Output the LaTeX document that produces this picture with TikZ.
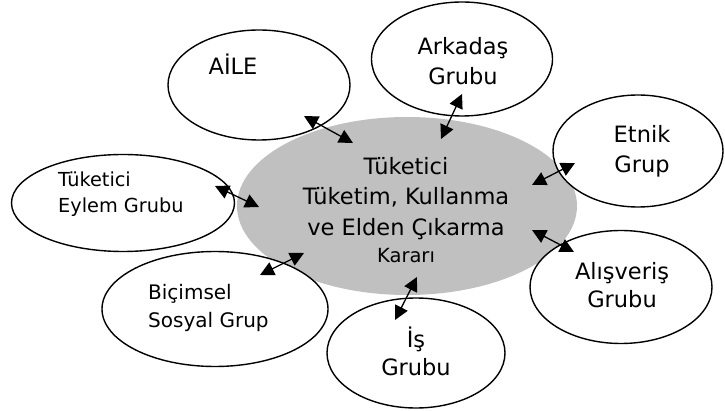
\documentclass[tikz,border=0pt]{standalone}
\usepackage{fontspec}
\setmainfont{DejaVu Sans}
\usetikzlibrary{shapes.geometric,arrows.meta}
\definecolor{centergray}{RGB}{192,192,192}
\begin{document}
\begin{tikzpicture}[x=1pt,y=-1pt,
  ell/.style={ellipse,draw=black,line width=1.4pt,fill=white,inner sep=0pt},
  bigtxt/.style={inner sep=0pt,font=\fontsize{22.5}{27}\selectfont},
  smalltxt/.style={inner sep=0pt,font=\fontsize{19.5}{23}\selectfont},
  dblarrow/.style={line width=1.3pt,{Triangle[length=14pt,width=14pt]}-{Triangle[length=14pt,width=14pt]}}]
\useasboundingbox (0,0) rectangle (725,411);
% central ellipse
\node[ellipse,fill=centergray,inner sep=0pt,minimum width=340pt,minimum height=178pt] (center) at (407,206) {};
% surrounding ellipses
\node[ell,minimum width=182pt,minimum height=110pt] (aile) at (259,85) {};
\node[ell,minimum width=181pt,minimum height=114pt] (arkadas) at (462,59) {};
\node[ell,minimum width=170pt,minimum height=112pt] (etnik) at (638,151) {};
\node[ell,minimum width=182pt,minimum height=113pt] (alis) at (621,287) {};
\node[ell,minimum width=178pt,minimum height=110pt] (is) at (416,353) {};
\node[ell,minimum width=226pt,minimum height=115pt] (bicim) at (215,309) {};
\node[ell,minimum width=223pt,minimum height=97pt] (eylem) at (123,203) {};
% central text
\node[bigtxt,anchor=base] (c1) at (406,175) {Tüketici};
\node[bigtxt,anchor=base] (c2) at (406,205) {Tüketim, Kullanma};
\node[bigtxt,anchor=base] (c3) at (406,236) {ve Elden Çıkarma};
\node[smalltxt,anchor=base] (c4) at (406,263) {Kararı};
% labels
\node[bigtxt,anchor=base] (tAile) at (233,75) {AİLE};
\node[bigtxt,anchor=base] (tArk1) at (463,55) {Arkadaş};
\node[bigtxt,anchor=base] (tArk2) at (463,85) {Grubu};
\node[bigtxt,anchor=base] (tEtn1) at (642,143) {Etnik};
\node[bigtxt,anchor=base] (tEtn2) at (642,173) {Grup};
\node[bigtxt,anchor=base] (tAli1) at (622,280) {Alışveriş};
\node[bigtxt,anchor=base] (tAli2) at (622,308) {Grubu};
\node[bigtxt,anchor=base] (tIs1) at (416,347) {İş};
\node[bigtxt,anchor=base] (tIs2) at (416,375) {Grubu};
\node[smalltxt,anchor=base west,font=\fontsize{20}{23}\selectfont] (tBic1) at (148,300) {Biçimsel};
\node[smalltxt,anchor=base west,font=\fontsize{20}{23}\selectfont] (tBic2) at (148,327) {Sosyal Grup};
\node[smalltxt,anchor=base west,font=\fontsize{19.3}{23}\selectfont] (tEyl1) at (58,187) {Tüketici};
\node[smalltxt,anchor=base west,font=\fontsize{19.3}{23}\selectfont] (tEyl2) at (58,213) {Eylem Grubu};
% arrow end points
\coordinate (aA) at (304,116); \coordinate (aB) at (353,143);
\coordinate (kA) at (462,94);  \coordinate (kB) at (441,139);
\coordinate (eA) at (575,163); \coordinate (eB) at (532,185);
\coordinate (lA) at (532,230); \coordinate (lB) at (574,252);
\coordinate (iA) at (417,277); \coordinate (iB) at (395,320);
\coordinate (bA) at (260,275); \coordinate (bB) at (304,253);
\coordinate (yA) at (215,186); \coordinate (yB) at (259,207);
% arrows
\draw[dblarrow] (aA) -- (aB);
\draw[dblarrow] (kA) -- (kB);
\draw[dblarrow] (eA) -- (eB);
\draw[dblarrow] (lA) -- (lB);
\draw[dblarrow] (iA) -- (iB);
\draw[dblarrow] (bA) -- (bB);
\draw[dblarrow] (yA) -- (yB);
\end{tikzpicture}
\end{document}
